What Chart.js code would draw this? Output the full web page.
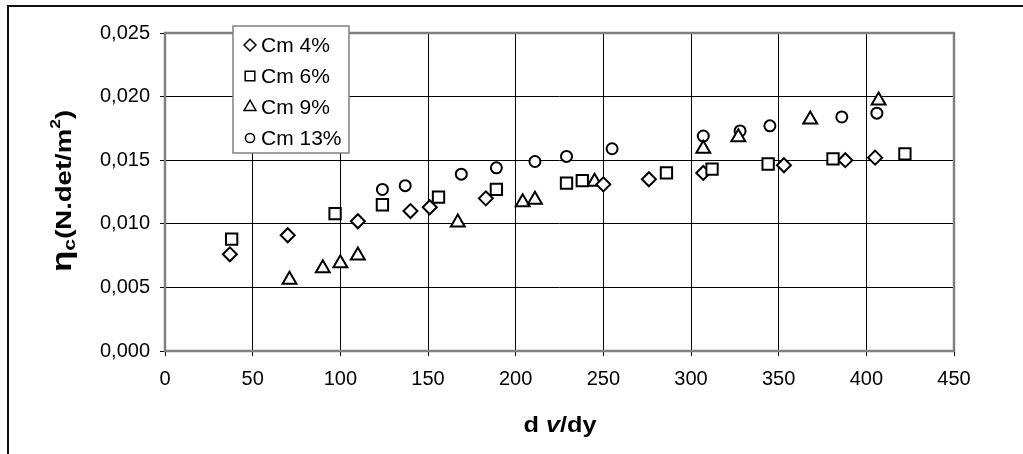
<!DOCTYPE html>
<html>
<head>
<meta charset="utf-8">
<script src="https://cdn.jsdelivr.net/npm/chart.js@4/dist/chart.umd.min.js"></script>
<style>
  html, body { margin: 0; padding: 0; background: #fff; }
  #frame { position: absolute; left: 7px; top: 5px; width: 1016px; height: 449px;
           border-top: 2px solid #111; border-left: 2px solid #111; box-sizing: border-box; }
  #wrap { position: absolute; left: 0; top: 0; width: 1023px; height: 454px; }
</style>
</head>
<body>
<div id="frame"></div>
<div id="wrap"><canvas id="chart" width="1023" height="454"></canvas></div>
<script>
const SERIES_NAMES = ['Cm 4%', 'Cm 6%', 'Cm 9%', 'Cm 13%'];

const cm4X = [37, 70, 110, 140, 151, 183, 250, 276, 307, 353, 388, 405];
const cm4Y = [0.0076, 0.0091, 0.0102, 0.0110, 0.0113, 0.0120, 0.0131, 0.0135, 0.0140, 0.0146, 0.0150, 0.0152];

const cm6X = [38, 97, 124, 156, 189, 229, 238, 286, 312, 344, 381, 422];
const cm6Y = [0.0088, 0.0108, 0.0115, 0.0121, 0.0127, 0.0132, 0.0134, 0.0140, 0.0143, 0.0147, 0.0151, 0.0155];

const cm9X = [71, 90, 100, 110, 167, 204, 211, 245, 307, 327, 368, 407];
const cm9Y = [0.0056, 0.0065, 0.0069, 0.0075, 0.0101, 0.0117, 0.0119, 0.0133, 0.0159, 0.0168, 0.0182, 0.0197];

const cm13X = [124, 137, 169, 189, 211, 229, 255, 307, 328, 345, 386, 406];
const cm13Y = [0.0127, 0.0130, 0.0139, 0.0144, 0.0149, 0.0153, 0.0159, 0.0169, 0.0173, 0.0177, 0.0184, 0.0187];

const X_MIN = 0, X_MAX = 450, X_STEP = 50;
const Y_MIN = 0, Y_MAX = 0.025, Y_STEP = 0.005;

const FONT = 'Arial, "Liberation Sans", sans-serif';
const INK = '#000';
const FRAME = '#808080';

const toPoints = (xs, ys) => xs.map((x, i) => ({ x, y: ys[i] }));

const markers = [
    { style: 'rectRot', radius: 7, legend: 6, order: 1 },
    { style: 'rect', radius: 8, legend: 6.8, order: 0 },
    { style: 'triangle', radius: 8, legend: 6.8, order: 2 },
    { style: 'circle', radius: 5.5, legend: 4.6, order: 3 },
];

const seriesData = [toPoints(cm4X, cm4Y), toPoints(cm6X, cm6Y), toPoints(cm9X, cm9Y), toPoints(cm13X, cm13Y)];

// draws text pieces stretched along the writing direction
function drawParts(ctx, parts, cx, baseY, stretch) {
    let w = 0;
    parts.forEach(([f, t]) => { ctx.font = f; w += ctx.measureText(t).width; });
    ctx.save();
    ctx.translate(cx, baseY);
    ctx.scale(stretch, 1);
    let px = -w / 2;
    parts.forEach(([f, t, dy]) => { ctx.font = f; ctx.fillText(t, px, dy || 0); px += ctx.measureText(t).width; });
    ctx.restore();
}

// frame, legend box and axis titles
const decorations = {
    id: 'decorations',
    beforeDatasetsDraw(chart) {
        const { ctx, chartArea: a } = chart;
        ctx.save();
        ctx.strokeStyle = FRAME;
        ctx.lineWidth = 2.5;
        ctx.strokeRect(a.left, a.top, a.right - a.left, a.bottom - a.top);
        ctx.restore();
    },
    afterDatasetsDraw(chart) {
        const { ctx } = chart;
        ctx.save();
        // legend
        const bx = 233, by = 26, bw = 116, bh = 127;
        ctx.fillStyle = '#fff';
        ctx.fillRect(bx, by, bw, bh);
        ctx.strokeStyle = FRAME;
        ctx.lineWidth = 1.5;
        ctx.strokeRect(bx, by, bw, bh);
        ctx.font = '21px ' + FONT;
        ctx.textBaseline = 'middle';
        ctx.textAlign = 'left';
        SERIES_NAMES.forEach((name, i) => {
            const y = by + 19 + i * 31;
            ctx.fillStyle = '#fff';
            ctx.strokeStyle = INK;
            Chart.helpers.drawPoint(ctx, {
                pointStyle: markers[i].style,
                radius: markers[i].legend,
                borderWidth: 2,
                rotation: 0,
            }, 250, y);
            ctx.fillStyle = INK;
            ctx.fillText(name, 261, y + 1);
        });

        // x title: d v /dy with italic v
        ctx.fillStyle = INK;
        ctx.textBaseline = 'alphabetic';
        drawParts(ctx, [
            ['bold 22px ' + FONT, 'd '],
            ['bold italic 22px ' + FONT, 'v'],
            ['bold 22px ' + FONT, '/dy'],
        ], 560, 432, 1.15);

        // y title: ηc(N.det/m²), rotated
        ctx.translate(71, 191);
        ctx.rotate(-Math.PI / 2);
        drawParts(ctx, [
            ['bold 28px ' + FONT, '\u03B7', 0],
            ['bold 17px ' + FONT, 'c', 4],
            ['bold 22px ' + FONT, '(N.det/m', 0],
            ['bold 14px ' + FONT, '2', -11],
            ['bold 22px ' + FONT, ')', 0],
        ], 0, 0, 1.25);
        ctx.restore();
    },
};

new Chart(document.getElementById('chart'), {
    type: 'scatter',
    data: {
        datasets: seriesData.map((data, i) => ({
            label: SERIES_NAMES[i],
            data,
            pointStyle: markers[i].style,
            pointRadius: markers[i].radius,
            pointHoverRadius: markers[i].radius,
            pointBorderWidth: 2,
            pointBorderColor: INK,
            pointBackgroundColor: '#fff',
            order: markers[i].order,
        })),
    },
    options: {
        responsive: false,
        animation: false,
        devicePixelRatio: 1,
        layout: { padding: { left: 0, top: 33, right: 69, bottom: 0 } },
        plugins: { legend: { display: false }, tooltip: { enabled: false } },
        scales: {
            x: {
                type: 'linear',
                min: X_MIN,
                max: X_MAX,
                afterFit: (s) => { s.height = 103; },
                ticks: { stepSize: X_STEP, color: INK, font: { family: FONT, size: 20 }, padding: 11, maxRotation: 0 },
                grid: { color: INK, lineWidth: 1, tickLength: 5, tickColor: INK },
                border: { display: false },
            },
            y: {
                type: 'linear',
                min: Y_MIN,
                max: Y_MAX,
                afterFit: (s) => { s.width = 165; },
                ticks: {
                    stepSize: Y_STEP,
                    color: INK,
                    font: { family: FONT, size: 20 },
                    padding: 10,
                    callback: (v) => v.toFixed(3).replace('.', ','),
                },
                grid: { color: INK, lineWidth: 1, tickLength: 5, tickColor: INK },
                border: { display: false },
            },
        },
    },
    plugins: [decorations],
});
</script>
</body>
</html>
